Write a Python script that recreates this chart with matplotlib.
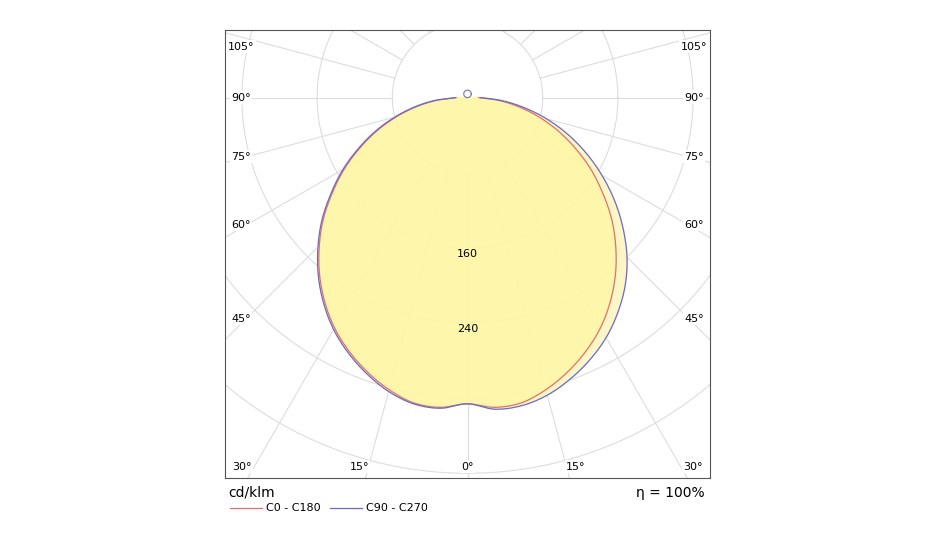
import numpy as np
import matplotlib.pyplot as plt

angles = np.arange(0, 95, 5)  # degrees from nadir
red = [326, 331, 330, 322, 311, 298, 283, 265, 245, 223, 200, 175, 151, 126, 102, 78, 55, 33, 12]
blue_left = [326, 332, 331, 324, 313, 300, 285, 267, 247, 225, 202, 177, 153, 128, 104, 80, 57, 35, 13]
blue_right = [326, 333, 333, 328, 319, 308, 295, 279, 261, 240, 216, 191, 165, 139, 113, 87, 61, 37, 14]
circles = [80, 160, 240, 320, 400, 480]
ring_labels = [160, 240]
side_angles = [45, 60, 75, 90, 105]
side_label_px = [319, 225, 157, 98, 47]
bottom_angles = [0, 15, 30]
bottom_label_px = [467, 359, 242]

SC = 0.939  # px per unit
def catmull(x, y, n=8):
    P = np.column_stack([x, y])
    P = np.vstack([P[0], P, P[-1]])
    out = []
    for i in range(1, len(P) - 2):
        p0, p1, p2, p3 = P[i-1], P[i], P[i+1], P[i+2]
        for tt in np.linspace(0, 1, n, endpoint=False):
            t2, t3 = tt*tt, tt*tt*tt
            out.append(0.5*((2*p1) + (-p0+p2)*tt + (2*p0-5*p1+4*p2-p3)*t2 + (-p0+3*p1-3*p2+p3)*t3))
    out.append(P[-2])
    o = np.array(out)
    return o[:, 0], o[:, 1]

def xy(ang_deg, vals, side):
    a = np.radians(ang_deg)
    v = np.asarray(vals, float)
    return side * v * np.sin(a), -v * np.cos(a)

fig = plt.figure(figsize=(9.33, 5.6), dpi=100)
ax = fig.add_axes([225/933, 82/560, 485/933, 448/560])
XL, YB, YT = 258, -405, 72
ax.set_xlim(-XL, XL); ax.set_ylim(YB, YT)
ax.set_xticks([]); ax.set_yticks([])
for s in ax.spines.values():
    s.set_color('#555555'); s.set_linewidth(0.8)

t = np.linspace(0, 2*np.pi, 400)
for r in circles:
    ax.plot(r*np.cos(t), r*np.sin(t), color='#dddddd', lw=0.8, zorder=1)
for a in range(0, 181, 15):
    for sd in (1, -1):
        ar = np.radians(a)
        ax.plot([sd*80*np.sin(ar), sd*700*np.sin(ar)], [-80*np.cos(ar), -700*np.cos(ar)],
                color='#dddddd', lw=0.8, zorder=1)

def curve(left, right):
    xl, yl = xy(angles, left, -1)
    xr, yr = xy(angles, right, 1)
    x = np.concatenate([xl[::-1], xr[1:]]); y = np.concatenate([yl[::-1], yr[1:]])
    return catmull(x, y)

red_x, red_y = curve(red, red)
blue_x, blue_y = curve(blue_left, blue_right)
ax.fill(blue_x, blue_y, color='#fdf5c0', alpha=0.9, zorder=2)
ax.fill(red_x, red_y, color='#fdf7a8', alpha=0.9, zorder=2)
ax.plot(red_x, red_y, color='#e07070', lw=0.9, zorder=3)
ax.plot(blue_x, blue_y, color='#6a6ad0', lw=0.9, zorder=3)
ax.plot(4*np.cos(t), 4+4*np.sin(t), color='#8070b0', lw=0.8, zorder=3)

for r in ring_labels:
    ax.text(0, -r - 6, str(r), ha='center', va='center', fontsize=8, zorder=4)
for a, py in zip(side_angles, side_label_px):
    y = (98 - py) / SC
    for sd in (1, -1):
        ax.text(sd*(XL-17), y, f"{a}°", ha='center', va='center', fontsize=8,
                bbox=dict(fc='white', ec='none', pad=1), zorder=4)
for a, px in zip(bottom_angles, bottom_label_px):
    x = (px - 467) / SC
    for sd in ((1, -1) if a else (1,)):
        ax.text(sd*x, YB+12, f"{a}°", ha='center', va='center', fontsize=8,
                bbox=dict(fc='white', ec='none', pad=1), zorder=4)

fig.text(228/933, 1-493/560, "cd/klm", fontsize=10, va='center')
fig.text(705/933, 1-493/560, "η = 100%", fontsize=10, va='center', ha='right')
fig.lines.append(plt.Line2D([230/933, 262/933], [1-508/560]*2, color='#e07070', lw=0.9, transform=fig.transFigure))
fig.text(266/933, 1-508/560, "C0 - C180", fontsize=8, va='center')
fig.lines.append(plt.Line2D([330/933, 362/933], [1-508/560]*2, color='#6a6ad0', lw=0.9, transform=fig.transFigure))
fig.text(366/933, 1-508/560, "C90 - C270", fontsize=8, va='center')

fig.savefig('out.png', dpi=100)
